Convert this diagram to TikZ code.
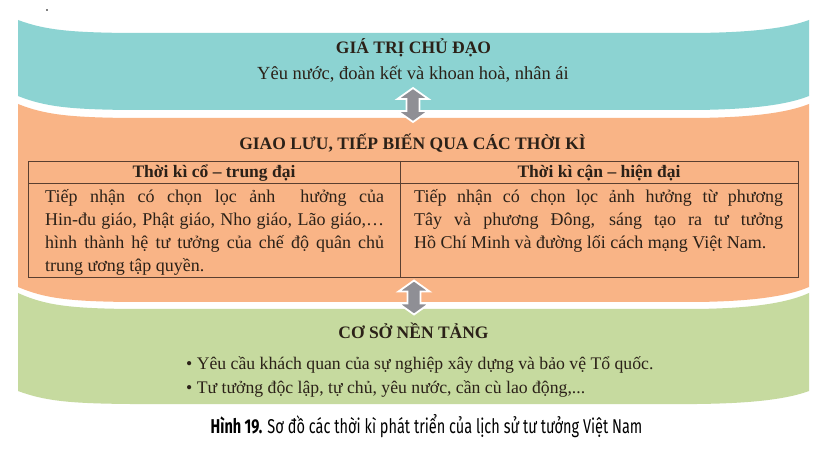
\documentclass[tikz,border=0pt]{standalone}
\usepackage{fontspec}
\setmainfont{Liberation Serif}
\newfontfamily\capfont[FakeStretch=0.725]{Fira Sans}
\definecolor{bandteal}{HTML}{8CD3D2}
\definecolor{bandorange}{HTML}{F9B486}
\definecolor{bandgreen}{HTML}{C6DA9F}
\definecolor{arrowgray}{HTML}{8F8F95}
\definecolor{tableline}{HTML}{5A3F30}
\definecolor{inktext}{HTML}{2B2118}
\newcommand{\myband}[5]{%
  \fill[#1] (18,#2) .. controls (45,{#2+0.77*(#3-#2)}) and (70,{#2+0.96*(#3-#2)}) .. (130,#3)
    -- (697,#3) .. controls (739,{#2+0.96*(#3-#2)}) and (782,{#2+0.77*(#3-#2)}) .. (809,#2)
    -- (809,#4) .. controls (782,{#4+0.77*(#5-#4)}) and (739,{#4+0.96*(#5-#4)}) .. (697,#5)
    -- (130,#5) .. controls (70,{#4+0.96*(#5-#4)}) and (45,{#4+0.77*(#5-#4)}) .. (18,#4) -- cycle;}
\newcommand{\dblarrow}[2]{%
  \filldraw[arrowgray, draw=white, line width=1.8pt, line join=miter]
    (#1,{#2-17}) -- ({#1+15.5},{#2-6}) -- ({#1+6.5},{#2-6}) -- ({#1+6.5},{#2+6})
    -- ({#1+15.5},{#2+6}) -- (#1,{#2+17}) -- ({#1-15.5},{#2+6}) -- ({#1-6.5},{#2+6})
    -- ({#1-6.5},{#2-6}) -- ({#1-15.5},{#2-6}) -- cycle;}
\begin{document}
\begin{tikzpicture}[x=1pt,y=-1pt,
  ttl/.style={font=\fontsize{17.5}{21}\bfseries\selectfont, text=inktext, inner sep=0, anchor=base},
  body/.style={font=\fontsize{18.5}{22}\selectfont, text=inktext, inner sep=0, anchor=base},
  cell/.style={font=\fontsize{18}{22}\selectfont, text=inktext, inner sep=0, anchor=base west},
  bul/.style={font=\fontsize{17.7}{22}\selectfont, text=inktext, inner sep=0, anchor=base west},
  hdr/.style={font=\fontsize{17.5}{21}\bfseries\selectfont, text=inktext, inner sep=0, anchor=base},
  capt/.style={font=\capfont\fontsize{20}{24}\selectfont, text=black, inner sep=0, anchor=base},
  grid/.style={draw=tableline, line width=0.8pt}]
\useasboundingbox (0,0) rectangle (828,457);
\fill[white] (0,0) rectangle (828,457);
\fill[black] (47,10) circle (0.8);
% bands
\myband{bandteal}{20}{33}{96}{110}
\myband{bandorange}{104}{118}{287}{302}
\myband{bandgreen}{293}{309}{391}{404}
% arrows
\coordinate (a1) at (413,105);
\coordinate (a2) at (414,297.5);
\dblarrow{413}{105}
\dblarrow{414}{297.5}
% top band
\node[ttl] (t1) at (413.5,54) {GIÁ TRỊ CHỦ ĐẠO};
\node[body] (t1b) at (413,80) {Yêu nước, đoàn kết và khoan hoà, nhân ái};
% middle band
\node[ttl] (t2) at (412.5,150) {GIAO LƯU, TIẾP BIẾN QUA CÁC THỜI KÌ};
\draw[grid] (28,161) rectangle (798,277);
\draw[grid] (28,183) -- (798,183);
\draw[grid] (400,161) -- (400,277);
\node[hdr] (h1) at (214,178) {Thời kì cổ – trung đại};
\node[hdr] (h2) at (599,178) {Thời kì cận – hiện đại};
\node[cell] (l1) at (45,203) {\makebox[339pt][s]{Tiếp nhận có chọn lọc ảnh \ hưởng của}};
\node[cell] (l2) at (45,226) {\makebox[339pt][s]{Hin-đu giáo, Phật giáo, Nho giáo, Lão giáo,…}};
\node[cell] (l3) at (45,249) {\makebox[339pt][s]{hình thành hệ tư tưởng của chế độ quân chủ}};
\node[cell] (l4) at (45,272) {trung ương tập quyền.};
\node[cell] (r1) at (414,203) {\makebox[369pt][s]{Tiếp nhận có chọn lọc ảnh hưởng từ phương}};
\node[cell] (r2) at (414,226) {\makebox[369pt][s]{Tây và phương Đông, sáng tạo ra tư tưởng}};
\node[cell] (r3) at (414,249) {Hồ Chí Minh và đường lối cách mạng Việt Nam.};
% bottom band
\node[ttl] (t3) at (413.5,338) {CƠ SỞ NỀN TẢNG};
\node[bul] (b1) at (186,370) {• Yêu cầu khách quan của sự nghiệp xây dựng và bảo vệ Tổ quốc.};
\node[bul] (b2) at (186,393) {• Tư tưởng độc lập, tự chủ, yêu nước, cần cù lao động,...};
% caption
\node[capt] (cap) at (426.5,433) {\textbf{Hình 19.} Sơ đồ các thời kì phát triển của lịch sử tư tưởng Việt Nam};
\end{tikzpicture}
\end{document}
